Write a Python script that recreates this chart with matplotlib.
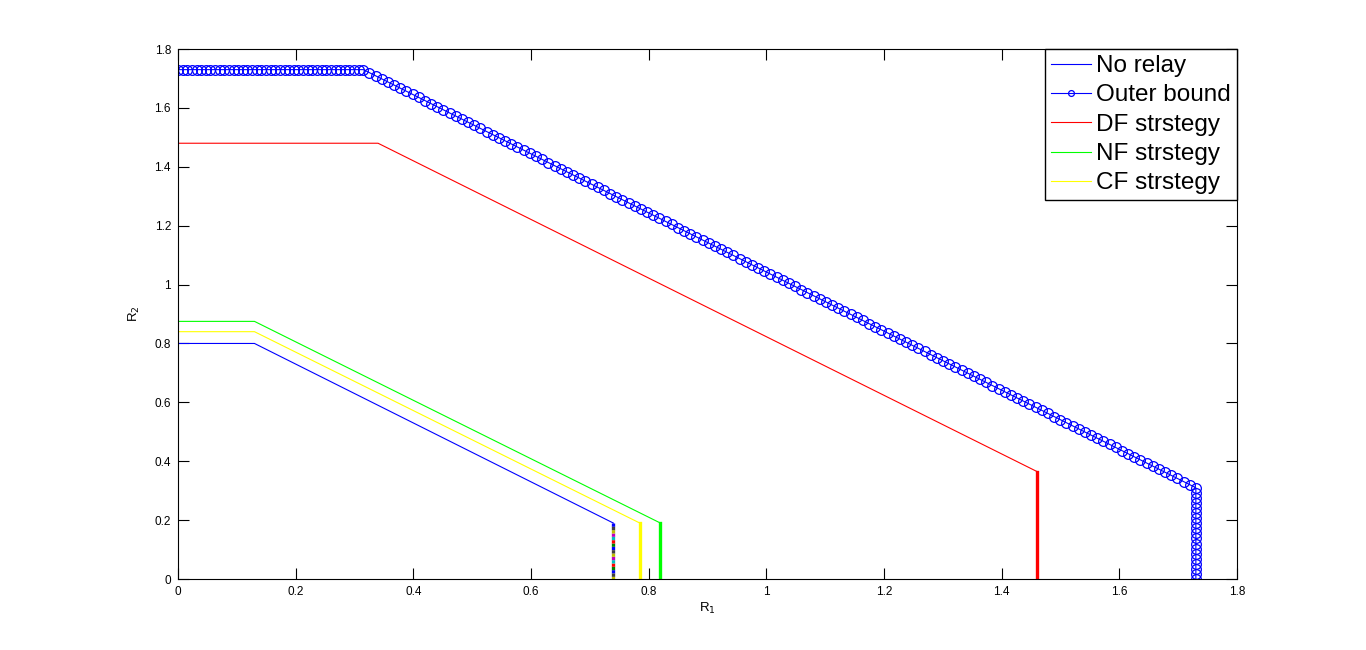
import numpy as np
import matplotlib.pyplot as plt

plt.rcParams['font.family'] = ['Liberation Sans', 'DejaVu Sans']

# corner points of each rate region (R1, R2)
norelay_r1 = [0.0, 0.13, 0.74, 0.74]
norelay_r2 = [0.80, 0.80, 0.19, 0.0]

df_r1 = [0.0, 0.34, 1.46, 1.46]
df_r2 = [1.48, 1.48, 0.365, 0.0]

nf_r1 = [0.0, 0.13, 0.82, 0.82]
nf_r2 = [0.875, 0.875, 0.19, 0.0]

cf_r1 = [0.0, 0.13, 0.785, 0.785]
cf_r2 = [0.84, 0.84, 0.19, 0.0]

outer_r1 = [0.0, 0.315, 1.73, 1.73]
outer_r2 = [1.73, 1.73, 0.31, 0.0]
# number of sample points on each piece of the outer bound
outer_counts = [40, 135, 19]

labels = ['No relay', 'Outer bound', 'DF strstegy', 'NF strstegy', 'CF strstegy']
ticks = [0, 0.2, 0.4, 0.6, 0.8, 1, 1.2, 1.4, 1.6, 1.8]

# sampled outer bound
ob_x, ob_y = [], []
for i, n in enumerate(outer_counts):
    ob_x += list(np.linspace(outer_r1[i], outer_r1[i + 1], n, endpoint=(i == 2)))
    ob_y += list(np.linspace(outer_r2[i], outer_r2[i + 1], n, endpoint=(i == 2)))

fig = plt.figure(figsize=(13.66, 6.5), dpi=100)
ax = fig.add_axes([0.1303, 0.1092, 0.7753, 0.8154])

lw = 0.8
thick = 2.4
h1, = ax.plot(norelay_r1[:3], norelay_r2[:3], color='#0000ff', lw=lw)
h2, = ax.plot(ob_x, ob_y, color='#0000ff', lw=lw, marker='o', ms=7,
              mfc='none', mec='#0000ff', mew=0.9)
h3, = ax.plot(df_r1[:3], df_r2[:3], color='#ff0000', lw=lw)
ax.plot(df_r1[2:], df_r2[2:], color='#ff0000', lw=thick)
h4, = ax.plot(nf_r1[:3], nf_r2[:3], color='#00ff00', lw=lw)
ax.plot(nf_r1[2:], nf_r2[2:], color='#00ff00', lw=thick)
h5, = ax.plot(cf_r1[:3], cf_r2[:3], color='#ffff00', lw=lw)
ax.plot(cf_r1[2:], cf_r2[2:], color='#ffff00', lw=thick)

# multicoloured overplotted edge of the no-relay region
mcols = ['#0000ff', '#008000', '#ff0000', '#00bfbf', '#bf00bf', '#bfbf00', '#404040']
seg = 1.0
gap = seg * (len(mcols) - 1)
for k, c in enumerate(mcols):
    ax.plot(norelay_r1[2:], norelay_r2[2:], color=c, lw=thick,
            linestyle=(seg * k, (seg, gap)), dash_capstyle='butt')

ax.set_xlim(0, 1.8)
ax.set_ylim(0, 1.8)
ax.set_xticks(ticks)
ax.set_yticks(ticks)
ax.set_xticklabels([f'{t:g}' for t in ticks])
ax.set_yticklabels([f'{t:g}' for t in ticks])
ax.tick_params(direction='in', length=8, width=0.8, top=True, right=True,
               labelsize=8.5, pad=5)
for s in ax.spines.values():
    s.set_linewidth(0.8)

ax.set_xlabel('R$_1$', fontsize=9.5, labelpad=2)
ax.set_ylabel('R$_2$', fontsize=9.5, labelpad=9)

leg = ax.legend([h1, h2, h3, h4, h5], labels, loc='upper right',
                borderaxespad=0, fontsize=17.5, fancybox=False, framealpha=1,
                edgecolor='black', handlelength=1.65, handletextpad=0.2,
                labelspacing=0.3, borderpad=0.25, markerscale=0.6)
leg.get_frame().set_linewidth(1.0)

fig.savefig('out.png', dpi=100, facecolor='white')
